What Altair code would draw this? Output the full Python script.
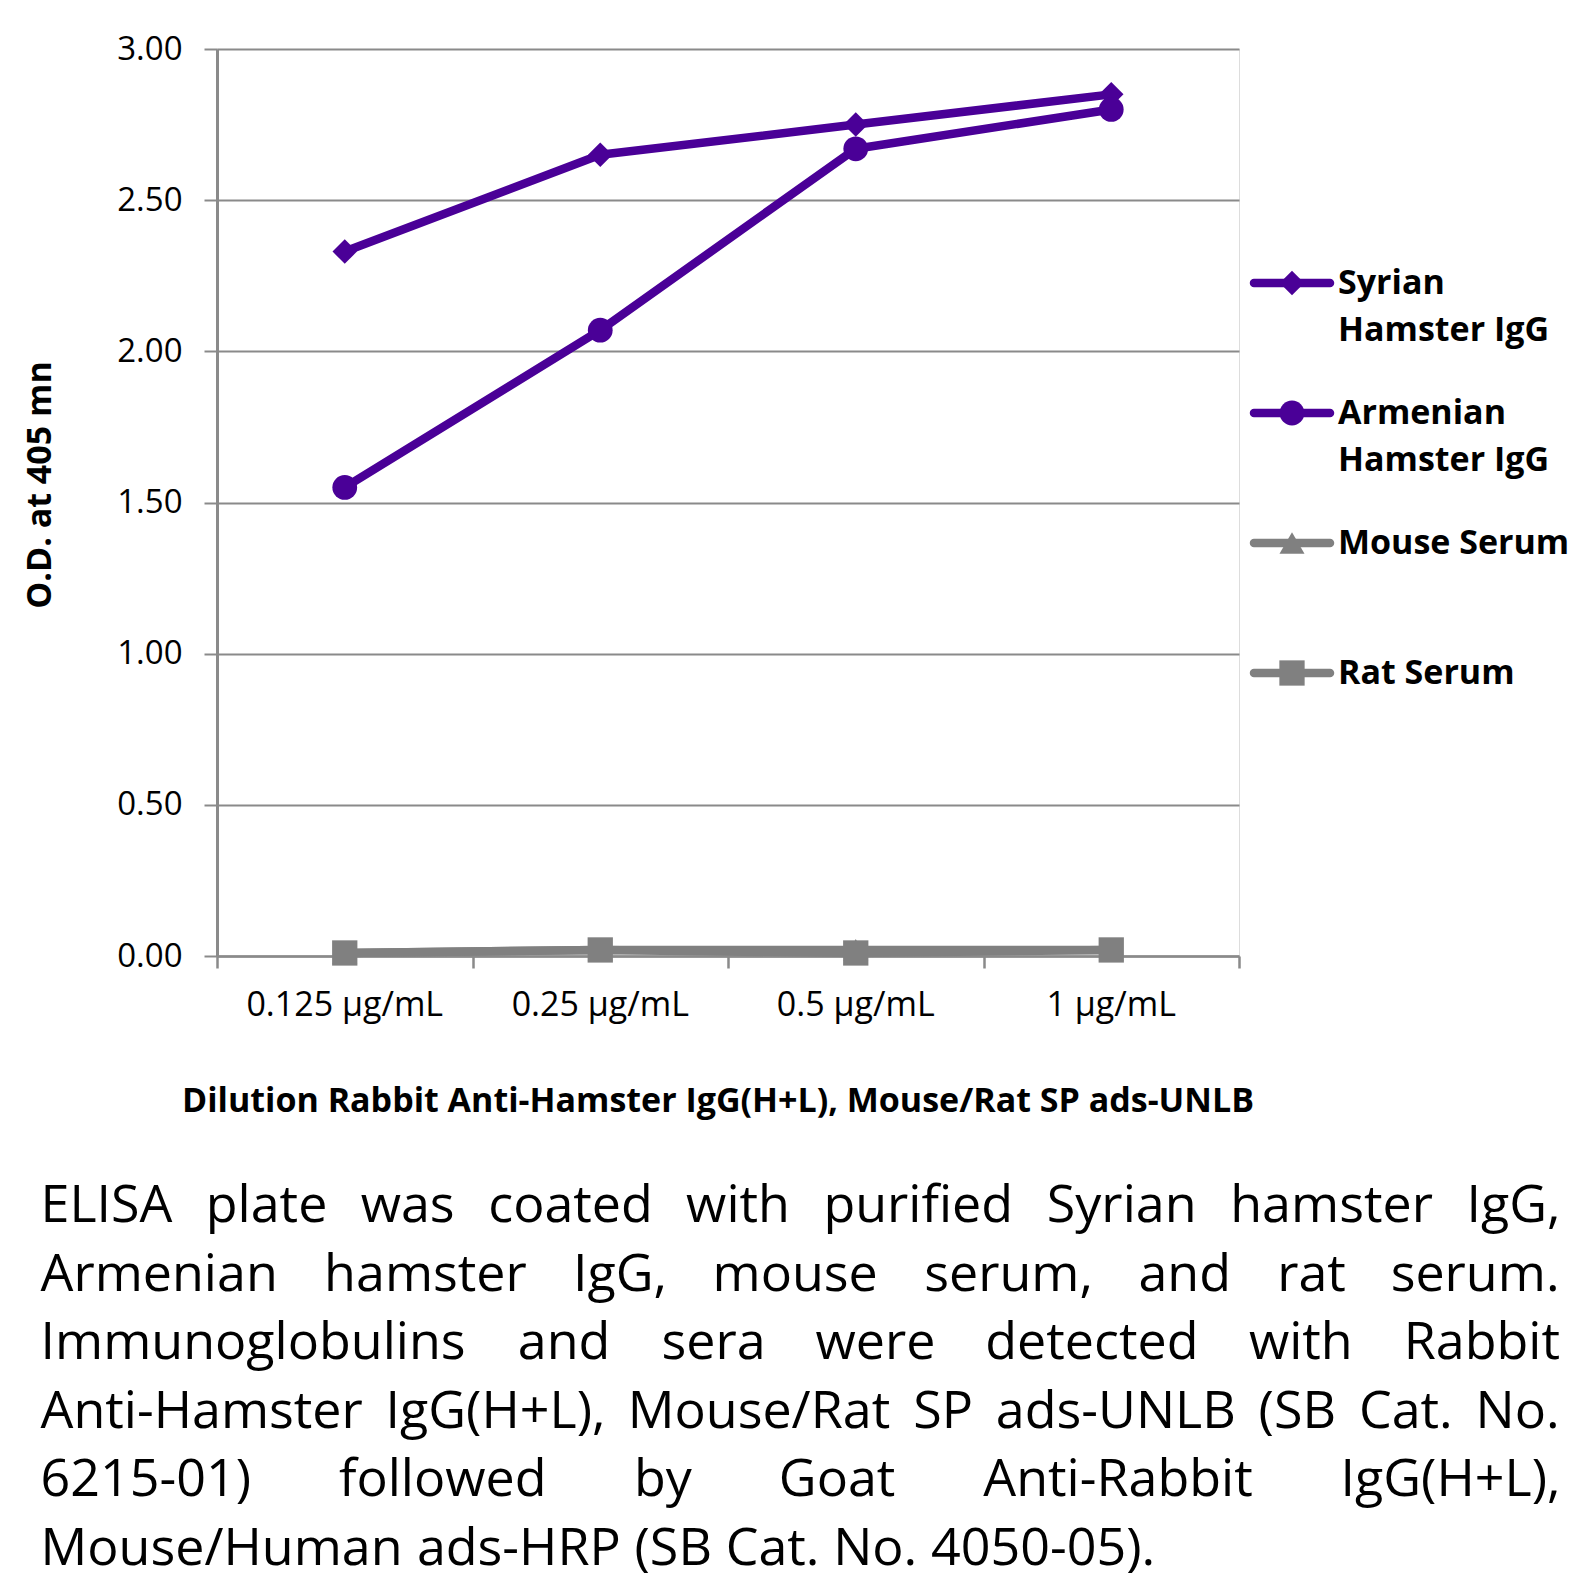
import glob
import altair as alt
import pandas as pd

# ---------------- data ----------------
categories = ["0.125 µg/mL", "0.25 µg/mL", "0.5 µg/mL", "1 µg/mL"]
series_names = ["Syrian Hamster IgG", "Armenian Hamster IgG", "Mouse Serum", "Rat Serum"]
legend_labels = ["Syrian\nHamster IgG", "Armenian\nHamster IgG", "Mouse Serum", "Rat Serum"]
syrian = [2.33, 2.65, 2.75, 2.85]
armenian = [1.55, 2.07, 2.67, 2.80]
mouse = [0.01, 0.02, 0.02, 0.02]
rat = [0.01, 0.02, 0.01, 0.02]
y_ticks = [0.0, 0.5, 1.0, 1.5, 2.0, 2.5, 3.0]
y_title = "O.D. at 405 mn"
x_title = "Dilution Rabbit Anti-Hamster IgG(H+L), Mouse/Rat SP ads-UNLB"
caption_lines = [
    "ELISA plate was coated with purified Syrian hamster IgG,",
    "Armenian hamster IgG, mouse serum, and rat serum.",
    "Immunoglobulins and sera were detected with Rabbit",
    "Anti-Hamster IgG(H+L), Mouse/Rat SP ads-UNLB (SB Cat. No.",
    "6215-01) followed by Goat Anti-Rabbit IgG(H+L),",
    "Mouse/Human ads-HRP (SB Cat. No. 4050-05).",
]

# ---------------- style ----------------
PURPLE = "#4a0097"
GREY = "#808080"
GRID = "#8a8a8a"
colors = [PURPLE, PURPLE, GREY, GREY]
shapes = ["diamond", "circle", "triangle-up", "square"]
sizes = [600, 640, 660, 700]
FONT = "Open Sans"

W, H = 1022, 907
PAD_L, PAD_T = 209, 41
TOTAL_W, TOTAL_H = 1574, 1572
CAP_SIZE = 52

# ---------------- text measuring for justified caption ----------------
OPEN_SANS = {
    " ": 532, "!": 547, "(": 606, ")": 606, "+": 1171, ",": 502, "-": 659, ".": 545, "/": 752,
    "A": 1296, "B": 1327, "C": 1292, "D": 1493, "E": 1139, "F": 1057, "G": 1491, "H": 1511,
    "I": 571, "J": 547, "K": 1257, "L": 1073, "M": 1849, "N": 1544, "O": 1595, "P": 1251,
    "Q": 1595, "R": 1298, "S": 1124, "T": 1133, "U": 1491, "V": 1245, "W": 1899, "X": 1200,
    "Y": 1159, "Z": 1174, "a": 1139, "b": 1255, "c": 975, "d": 1255, "e": 1149, "f": 694,
    "g": 1122, "h": 1257, "i": 518, "j": 518, "k": 1075, "l": 518, "m": 1905, "n": 1257,
    "o": 1237, "p": 1255, "q": 1255, "r": 836, "s": 977, "t": 723, "u": 1257, "v": 1026,
    "w": 1593, "x": 1073, "y": 1028, "z": 977,
}
for d in "0123456789":
    OPEN_SANS[d] = 1171


def make_measure(size):
    try:
        from PIL import ImageFont
        cands = glob.glob("/usr/share/fonts/**/OpenSans-Regular.ttf", recursive=True)
        if not cands:
            cands = [p for p in glob.glob("/usr/share/fonts/**/OpenSans*.ttf", recursive=True)
                     if "Italic" not in p]
        font = ImageFont.truetype(cands[0], size)
        return lambda s: font.getlength(s)
    except Exception:
        return lambda s: sum(OPEN_SANS.get(c, 1150) for c in s) / 2048.0 * size


measure = make_measure(CAP_SIZE)
CAP_LEFT = 40.5 - (PAD_L + 8)
CAP_RIGHT = 1560 - (PAD_L + 8)
CAP_BASE = 1222 - (PAD_T + 8)
CAP_STEP = 68.6

words = []
for li, line in enumerate(caption_lines):
    ws = line.split(" ")
    y = CAP_BASE + li * CAP_STEP
    if li == len(caption_lines) - 1 or len(ws) == 1:
        x = CAP_LEFT
        space = measure(" ")
        for w in ws:
            words.append({"word": w, "wx": x, "wy": y})
            x += measure(w) + space
    else:
        total = sum(measure(w) for w in ws)
        gap = (CAP_RIGHT - CAP_LEFT - total) / (len(ws) - 1)
        x = CAP_LEFT
        for w in ws:
            words.append({"word": w, "wx": x, "wy": y})
            x += measure(w) + gap
df_words = pd.DataFrame(words)

# ---------------- tables ----------------
rows = []
for name, vals in zip(series_names, [syrian, armenian, mouse, rat]):
    for i, (c, v) in enumerate(zip(categories, vals)):
        rows.append({"series": name, "cat": c, "xi": i + 0.5, "od": v})
df = pd.DataFrame(rows)
df_cat = pd.DataFrame({"cat": categories, "xi": [i + 0.5 for i in range(len(categories))]})
df_leg = pd.DataFrame({
    "series": series_names,
    "label": legend_labels,
    "ly": [234 + i * 130 for i in range(len(series_names))],
})

color_enc = alt.Color("series:N", scale=alt.Scale(domain=series_names, range=colors), legend=None)
shape_enc = alt.Shape("series:N", scale=alt.Scale(domain=series_names, range=shapes), legend=None)
size_enc = alt.Size("series:O", scale=alt.Scale(domain=series_names, range=sizes), legend=None)

xscale = alt.Scale(domain=[0, 4], nice=False, zero=False)
yscale = alt.Scale(domain=[0, 3], nice=False, zero=False)

x_axis = alt.Axis(values=[0, 1, 2, 3, 4], labels=False, title=None, grid=False,
                  ticks=True, tickSize=12, tickColor=GRID, tickWidth=2.5,
                  domainColor=GRID, domainWidth=2.5)
y_axis = alt.Axis(values=y_ticks, format=".2f", title=None, grid=True, gridColor=GRID,
                  gridWidth=2, tickSize=13, tickColor=GRID, tickWidth=2,
                  domainColor=GRID, domainWidth=3, labelFont=FONT, labelFontSize=33,
                  labelColor="black", labelPadding=22)

lines = alt.Chart(df).mark_line(strokeWidth=8.5, strokeJoin="round", strokeCap="round").encode(
    x=alt.X("xi:Q", scale=xscale, axis=x_axis),
    y=alt.Y("od:Q", scale=yscale, axis=y_axis),
    color=color_enc,
)

points = alt.Chart(df).mark_point(filled=True, opacity=1).encode(
    x=alt.X("xi:Q", scale=xscale, axis=None),
    y=alt.Y("od:Q", scale=yscale, axis=None),
    color=color_enc, shape=shape_enc, size=size_enc,
)

cat_labels = alt.Chart(df_cat).mark_text(font=FONT, fontSize=34, baseline="middle",
                                         align="center", color="black").encode(
    x=alt.X("xi:Q", scale=xscale, axis=None),
    y=alt.value(H + 50),
    text="cat:N",
)

leg_lines = alt.Chart(df_leg).mark_rule(strokeWidth=8.5, strokeCap="round").encode(
    x=alt.value(1037), x2=alt.value(1113),
    y=alt.Y("ly:Q", scale=None),
    color=color_enc,
)
leg_points = alt.Chart(df_leg).mark_point(filled=True, opacity=1).encode(
    x=alt.value(1075),
    y=alt.Y("ly:Q", scale=None),
    color=color_enc, shape=shape_enc, size=size_enc,
)
leg_text = alt.Chart(df_leg).mark_text(font=FONT, fontSize=34, fontWeight="bold", align="left",
                                       baseline="top", dy=-16, lineBreak="\n", lineHeight=47,
                                       color="black").encode(
    x=alt.value(1121),
    y=alt.Y("ly:Q", scale=None),
    text="label:N",
)

ytitle = alt.Chart(pd.DataFrame({"t": [y_title]})).mark_text(
    font=FONT, fontSize=34, fontWeight="bold", angle=270, align="center",
    baseline="middle", color="black").encode(
    x=alt.value(41 - (PAD_L + 8)), y=alt.value(485 - (PAD_T + 8)), text="t:N")

xtitle = alt.Chart(pd.DataFrame({"t": [x_title]})).mark_text(
    font=FONT, fontSize=34, fontWeight="bold", align="center",
    baseline="middle", color="black").encode(
    x=alt.value(718 - (PAD_L + 8)), y=alt.value(1102 - (PAD_T + 8)), text="t:N")

caption = alt.Chart(df_words).mark_text(font=FONT, fontSize=CAP_SIZE, align="left",
                                        baseline="alphabetic", color="black").encode(
    x=alt.X("wx:Q", scale=None),
    y=alt.Y("wy:Q", scale=None),
    text="word:N",
)

chart = alt.layer(
    lines, points, cat_labels, leg_lines, leg_points, leg_text, ytitle, xtitle, caption
).resolve_scale(x="independent", y="independent").properties(
    width=W, height=H,
    autosize=alt.AutoSizeParams(type="none"),
    padding={"left": PAD_L, "top": PAD_T, "right": TOTAL_W - PAD_L - W,
             "bottom": TOTAL_H - PAD_T - H},
).configure_view(stroke=None).configure(background="white")

chart.save("out.html", embed_options={"renderer": "svg", "actions": False})
